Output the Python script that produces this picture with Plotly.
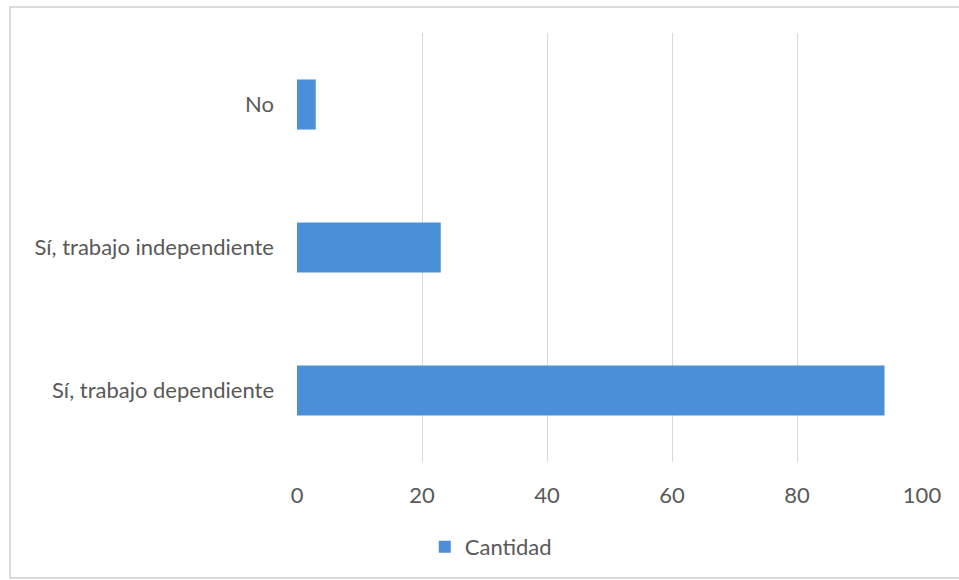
import plotly.graph_objects as go

# Respuestas y cantidades
categorias = ["Sí, trabajo dependiente", "Sí, trabajo independiente", "No"]
cantidad = [94, 23, 3]
ticks_x = [0, 20, 40, 60, 80, 100]

fig = go.Figure()
fig.add_trace(go.Bar(
    y=categorias,
    x=cantidad,
    orientation="h",
    name="Cantidad",
    marker=dict(color="#4A8FD8", line=dict(width=0)),
    showlegend=True,
))

fig.update_layout(
    width=959,
    height=580,
    margin=dict(l=297, r=37, t=33, b=118),
    paper_bgcolor="white",
    plot_bgcolor="white",
    bargap=0.65,
    font=dict(family="Lato, 'Open Sans', sans-serif", size=22, color="#595959"),
    showlegend=True,
    legend=dict(
        orientation="h",
        x=0.31, xanchor="center",
        y=-0.198, yanchor="middle",
        font=dict(size=22, color="#595959"),
        itemwidth=30,
    ),
    xaxis=dict(
        range=[0, 100],
        tickvals=ticks_x,
        showgrid=True,
        gridcolor="#D9D9D9",
        gridwidth=1,
        zeroline=False,
        showline=False,
        ticks="",
        ticklabelstandoff=18,
        fixedrange=True,
    ),
    yaxis=dict(
        categoryorder="array",
        categoryarray=categorias,
        showgrid=False,
        zeroline=False,
        showline=False,
        ticks="",
        ticklabelstandoff=22,
    ),
    shapes=[
        dict(
            type="rect", xref="paper", yref="paper",
            x0=-287 / 625, x1=(959 - 297 + 5) / 625,
            y0=(462 - 578) / 429, y1=(462 - 7) / 429,
            line=dict(color="#D0D0D0", width=1.5),
            fillcolor="rgba(0,0,0,0)",
            layer="below",
        ),
    ],
)

fig.write_html("out.html")
